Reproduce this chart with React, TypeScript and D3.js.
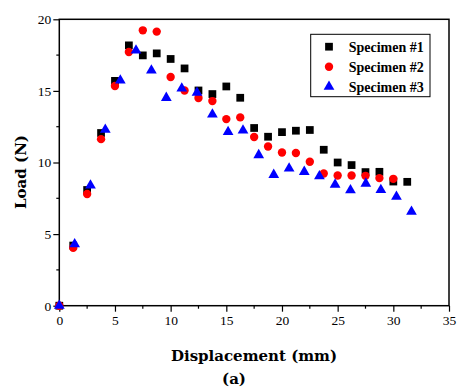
import React, { useEffect, useRef } from "react";
import * as d3 from "d3";

const xTicks = [0, 5, 10, 15, 20, 25, 30, 35];
const yTicks = [0, 5, 10, 15, 20];

const spec1X = [0, 1.25, 2.5, 3.75, 5, 6.25, 7.5, 8.75, 10, 11.25, 12.5, 13.75, 15, 16.25, 17.5, 18.75, 20, 21.25, 22.5, 23.75, 25, 26.25, 27.5, 28.75, 30, 31.25];
const spec1Y = [0, 4.2, 8.08, 12.06, 15.7, 18.18, 17.48, 17.62, 17.23, 16.57, 15.03, 14.78, 15.31, 14.52, 12.41, 11.8, 12.12, 12.22, 12.27, 10.89, 10.0, 9.82, 9.33, 9.35, 8.67, 8.65];

const spec2X = [0, 1.25, 2.5, 3.75, 5, 6.25, 7.5, 8.75, 10, 11.25, 12.5, 13.75, 15, 16.25, 17.5, 18.75, 20, 21.25, 22.5, 23.75, 25, 26.25, 27.5, 28.75, 30];
const spec2Y = [0, 4.05, 7.8, 11.63, 15.34, 17.72, 19.23, 19.14, 15.97, 15.03, 14.5, 14.29, 13.03, 13.15, 11.78, 11.12, 10.7, 10.66, 10.05, 9.23, 9.09, 9.09, 9.07, 8.91, 8.86];

const spec3X = [0, 1.38, 2.8, 4.13, 5.48, 6.89, 8.27, 9.61, 11.0, 12.37, 13.75, 15.16, 16.5, 17.91, 19.26, 20.64, 22.0, 23.36, 24.77, 26.15, 27.53, 28.88, 30.28, 31.63];
const spec3Y = [0, 4.3, 8.4, 12.29, 15.73, 17.83, 16.43, 14.52, 15.17, 14.87, 13.36, 12.13, 12.24, 10.52, 9.14, 9.58, 9.35, 9.05, 8.46, 8.07, 8.53, 8.09, 7.62, 6.57];

const seriesNames = ["Specimen #1", "Specimen #2", "Specimen #3"];

const W = 457, H = 389;
const serif = "'Liberation Serif', 'DejaVu Serif', serif";
const titleFont = "'DejaVu Serif', 'Liberation Serif', serif";

export default function App() {
  const ref = useRef<SVGSVGElement>(null);

  useEffect(() => {
    const root = d3.select(ref.current);
    root.selectAll("*").remove();
    const margin = { top: 19.3, right: 8, bottom: 83.3, left: 59.3 };
    const width = W - margin.left - margin.right,
      height = H - margin.top - margin.bottom;

    const x = d3.scaleLinear().domain([0, 35]).range([0, width]);
    const y = d3.scaleLinear().domain([0, 20]).range([height, 0]);

    const svg = root.append("g").attr("transform", "translate(" + margin.left + "," + margin.top + ")");

    // minor ticks
    const xMinor = d3.range(2.5, 35, 5);
    const yMinor = d3.range(2.5, 20, 5);
    svg.selectAll(".xminor").data(xMinor).enter().append("line")
      .attr("x1", d => x(d)).attr("x2", d => x(d))
      .attr("y1", height).attr("y2", height + 3)
      .attr("stroke", "#000").attr("stroke-width", 1.2);
    svg.selectAll(".yminor").data(yMinor).enter().append("line")
      .attr("x1", -3).attr("x2", 0)
      .attr("y1", d => y(d)).attr("y2", d => y(d))
      .attr("stroke", "#000").attr("stroke-width", 1.2);

    const xAxis = svg.append("g").attr("transform", "translate(0," + height + ")")
      .call(d3.axisBottom(x).tickValues(xTicks).tickSize(6).tickSizeOuter(0));
    const yAxis = svg.append("g")
      .call(d3.axisLeft(y).tickValues(yTicks).tickSize(6).tickSizeOuter(0));
    [xAxis, yAxis].forEach(a => {
      a.select(".domain").remove();
      a.selectAll("line").attr("stroke-width", 1.2);
      a.selectAll("text").attr("font-family", serif).attr("font-size", 13.5).attr("fill", "#000");
    });
    xAxis.selectAll("text").attr("dy", "0.95em").attr("y", 6);
    yAxis.selectAll("text").attr("x", -8);

    // frame
    svg.append("rect").attr("width", width).attr("height", height)
      .attr("fill", "none").attr("stroke", "#000").attr("stroke-width", 1.5);

    const sq = d3.symbol().type(d3.symbolSquare).size(60);
    const ci = d3.symbol().type(d3.symbolCircle).size(55);
    const tr = d3.symbol().type(d3.symbolTriangle).size(50);

    const series = [
      { xs: spec1X, ys: spec1Y, color: "#000000", sym: sq },
      { xs: spec2X, ys: spec2Y, color: "#ff0000", sym: ci },
      { xs: spec3X, ys: spec3Y, color: "#0000ff", sym: tr },
    ];

    series.forEach(s => {
      svg.append("g").selectAll("path").data(s.xs.map((v, i) => [v, s.ys[i]])).enter()
        .append("path")
        .attr("d", s.sym as any)
        .attr("transform", d => "translate(" + x(d[0]) + "," + y(d[1]) + ")")
        .attr("fill", s.color);
    });

    // legend
    const lg = root.append("g").attr("transform", "translate(310.7,34.3)");
    lg.append("rect").attr("width", 119.3).attr("height", 62.4)
      .attr("fill", "#fff").attr("stroke", "#000").attr("stroke-width", 1);
    series.forEach((s, i) => {
      lg.append("path").attr("d", s.sym as any)
        .attr("transform", "translate(18.3," + (12.4 + i * 20) + ")")
        .attr("fill", s.color);
      lg.append("text").attr("x", 38).attr("y", 12.4 + i * 20).attr("dy", "0.35em")
        .attr("font-family", serif).attr("font-weight", "bold").attr("font-size", 14)
        .text(seriesNames[i]);
    });

    root.append("text").attr("x", 254).attr("y", 361)
      .attr("text-anchor", "middle").attr("font-family", titleFont).attr("font-weight", "bold")
      .attr("font-size", 15).text("Displacement (mm)");
    root.append("text").attr("transform", "translate(26,172) rotate(-90)")
      .attr("text-anchor", "middle").attr("font-family", titleFont).attr("font-weight", "bold")
      .attr("font-size", 15).text("Load (N)");
    root.append("text").attr("x", 234).attr("y", 384)
      .attr("text-anchor", "middle").attr("font-family", titleFont).attr("font-weight", "bold")
      .attr("font-size", 15).text("(a)");
  }, []);

  return (
    <svg ref={ref} width={W} height={H}
      style={{ position: "absolute", left: 0, top: 0, background: "#fff" }} />
  );
}
